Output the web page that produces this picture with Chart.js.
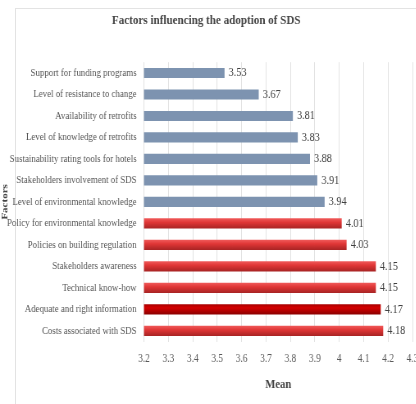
<!DOCTYPE html>
<html>
<head>
<meta charset="utf-8">
<script src="https://cdn.jsdelivr.net/npm/chart.js@4"></script>
<style>
  html, body { margin: 0; padding: 0; background: #fff; overflow: hidden; width: 416px; height: 404px; }
  #frame { position: absolute; left: 15px; top: 8px; width: 600px; height: 600px; border: 1px solid #e3e3e3; }
  #grafica { position: absolute; left: 0; top: 0; transform: scaleX(0.82); transform-origin: 0 0; }
</style>
</head>
<body>
<div id="frame"></div>
<canvas id="grafica" width="537" height="404"></canvas>
<script>
const $grafica = document.querySelector("#grafica");

// datos (de arriba a abajo)
const factores = [
  "Support for funding programs",
  "Level of resistance to change",
  "Availability of retrofits",
  "Level of knowledge of retrofits",
  "Sustainability rating tools for hotels",
  "Stakeholders involvement of SDS",
  "Level of environmental knowledge",
  "Policy for environmental knowledge",
  "Policies on building regulation",
  "Stakeholders awareness",
  "Technical know-how",
  "Adequate and right information",
  "Costs associated with SDS"
];
const medias = [3.53, 3.67, 3.81, 3.83, 3.88, 3.91, 3.94, 4.01, 4.03, 4.15, 4.15, 4.17, 4.18];
// 0 = gris azulado, 1 = rojo, 2 = rojo oscuro
const grupo = [0, 0, 0, 0, 0, 0, 0, 1, 1, 1, 1, 2, 1];
const ejeMin = 3.2;
const ejeMax = 4.3;

const fuente = "'Liberation Serif', 'Times New Roman', serif";

function colorBarra(ctx) {
  const g = grupo[ctx.dataIndex];
  if (g === 0) return '#7d93b0';
  const flat = g === 2 ? '#c00000' : '#dc3a3a';
  const el = ctx.chart.getDatasetMeta(0).data[ctx.dataIndex];
  if (!el || el.y == null || isNaN(el.y)) return flat;
  const h = el.height || 10;
  const grad = ctx.chart.ctx.createLinearGradient(0, el.y - h / 2, 0, el.y + h / 2);
  if (g === 2) {
    grad.addColorStop(0, '#a80000');
    grad.addColorStop(0.35, '#d40000');
    grad.addColorStop(1, '#8a0000');
  } else {
    grad.addColorStop(0, '#f05a5a');
    grad.addColorStop(0.4, '#e03636');
    grad.addColorStop(1, '#a82424');
  }
  return grad;
}

// etiquetas de valor al final de cada barra
const etiquetasValor = {
  id: 'etiquetasValor',
  afterDatasetsDraw(chart) {
    const ctx = chart.ctx;
    const meta = chart.getDatasetMeta(0);
    ctx.save();
    ctx.font = "12.5px " + fuente;
    ctx.fillStyle = '#404040';
    ctx.textAlign = 'left';
    ctx.textBaseline = 'middle';
    meta.data.forEach((bar, i) => {
      ctx.fillText(medias[i].toFixed(2), bar.x + 5, bar.y);
    });
    ctx.restore();
  }
};

const grafica = new Chart($grafica, {
  type: 'bar',
  data: {
    labels: factores,
    datasets: [{
      label: 'Mean',
      data: medias,
      backgroundColor: colorBarra,
      borderWidth: 0,
      barPercentage: 0.47,
      categoryPercentage: 1
    }]
  },
  options: {
    indexAxis: 'y',
    responsive: false,
    animation: false,
    layout: { padding: { left: 0, right: 34, top: 8, bottom: 10 } },
    plugins: {
      legend: { display: false },
      tooltip: { enabled: false },
      title: {
        display: true,
        text: 'Factors influencing the adoption of SDS',
        color: '#444',
        font: { family: fuente, size: 13.5, weight: 'bold' },
        padding: { top: 4, bottom: 34 }
      }
    },
    scales: {
      x: {
        min: ejeMin,
        max: ejeMax,
        ticks: {
          stepSize: 0.1,
          padding: 10,
          color: '#595959',
          font: { family: fuente, size: 11.5 },
          callback: v => String(Number(v.toFixed(1)))
        },
        grid: { color: '#e2e2e2', drawTicks: false },
        border: { display: false },
        title: {
          display: true,
          text: 'Mean',
          color: '#444',
          font: { family: fuente, size: 13, weight: 'bold' },
          padding: { top: 1, bottom: 2 }
        }
      },
      y: {
        grid: { display: false },
        border: { display: false },
        ticks: {
          padding: 1,
          color: '#555',
          font: { family: fuente, size: 10.8 }
        },
        title: {
          display: true,
          text: 'Factors',
          color: '#444',
          font: { family: fuente, size: 11, weight: 'bold' },
          padding: { top: 0, bottom: 0 }
        },
        afterFit: s => { s.width = 175.6; }
      }
    }
  },
  plugins: [etiquetasValor]
});
grafica.update('none');
</script>
</body>
</html>
